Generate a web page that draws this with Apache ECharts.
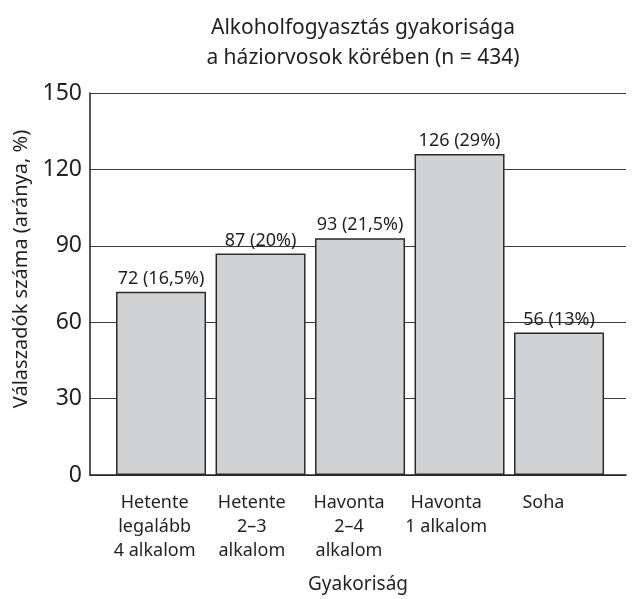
<!DOCTYPE html>
<html>
<head>
<meta charset="utf-8">
<script src="https://cdn.jsdelivr.net/npm/echarts@6/dist/echarts.min.js"></script>
<style>
  html, body { margin: 0; padding: 0; background: #fff; }
  #chart { width: 632px; height: 599px; }
</style>
</head>
<body>
<div id="chart"></div>
<script>
  // adatok
  const categories = ['Hetente\nlegalább\n4 alkalom', 'Hetente\n2–3\nalkalom', 'Havonta\n2–4\nalkalom', 'Havonta\n1 alkalom', 'Soha'];
  const counts = [72, 87, 93, 126, 56];
  const shares = ['16,5%', '20%', '21,5%', '29%', '13%'];
  const yMin = 0;
  const yMax = 150;
  const yStep = 30;

  const font = 'Noto Sans';
  const ink = '#231f20';

  const chart = echarts.init(document.getElementById('chart'));

  const option = {
    animation: false,
    title: {
      text: 'Alkoholfogyasztás gyakorisága\na háziorvosok körében (n = 434)',
      left: 358,
      top: 8,
      textAlign: 'center',
      textStyle: { fontFamily: font, fontSize: 21, fontWeight: 'normal', color: ink, lineHeight: 30 },
    },
    grid: [
      { left: 90, right: 6, top: 93, bottom: 115 },
      // csak a kategória feliratokhoz
      { left: 106, right: 40, top: 93, bottom: 115 },
    ],
    xAxis: [
      {
        type: 'value',
        gridIndex: 0,
        min: -0.714,
        max: 4.673,
        axisLine: { show: true, onZero: false, lineStyle: { color: ink, width: 1.5 } },
        axisTick: { show: false },
        axisLabel: { show: false },
        splitLine: { show: false },
        name: 'Gyakoriság',
        nameLocation: 'middle',
        nameGap: 100,
        nameTextStyle: { fontFamily: font, fontSize: 19, color: ink },
      },
      {
        type: 'category',
        gridIndex: 1,
        data: categories,
        axisLine: { show: false },
        axisTick: { show: false },
        axisLabel: { interval: 0, fontFamily: font, fontSize: 18, color: ink, lineHeight: 24, margin: 7 },
      },
    ],
    yAxis: [
      {
        type: 'value',
        gridIndex: 0,
        min: yMin,
        max: yMax,
        interval: yStep,
        axisLine: { show: true, onZero: false, lineStyle: { color: ink, width: 1.5 } },
        axisTick: { show: false },
        axisLabel: { fontFamily: font, fontSize: 23, color: ink, margin: 8 },
        splitLine: { show: true, lineStyle: { color: '#3a3a3a', width: 1 } },
        name: 'Válaszadók száma (aránya, %)',
        nameLocation: 'middle',
        nameGap: 58,
        nameRotate: 90,
        nameTextStyle: { fontFamily: font, fontSize: 20, color: ink, padding: [0, 0, 0, 30] },
      },
      {
        type: 'value',
        gridIndex: 1,
        show: false,
      },
    ],
    series: [
      {
        type: 'bar',
        xAxisIndex: 0,
        yAxisIndex: 0,
        barWidth: 90,
        data: counts.map((v, i) => [i, v]),
        itemStyle: { color: '#d1d2d4', borderColor: '#2b2b2b', borderWidth: 1.5 },
        label: {
          show: true,
          position: 'top',
          distance: 4,
          fontFamily: font,
          fontSize: 18,
          color: ink,
          formatter: (p) => counts[p.dataIndex] + ' (' + shares[p.dataIndex] + ')',
        },
      },
    ],
  };

  chart.setOption(option);
</script>
</body>
</html>
